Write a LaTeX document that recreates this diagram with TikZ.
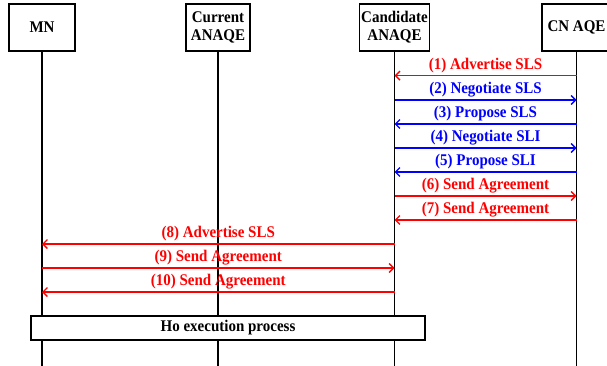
\documentclass[tikz,border=0pt]{standalone}
\usepackage{fontspec}
\setmainfont{Liberation Serif}[FakeStretch=0.92]
\usetikzlibrary{arrows.meta}
\definecolor{msgred}{RGB}{255,0,0}
\definecolor{msgblue}{RGB}{0,0,255}
\begin{document}
\begin{tikzpicture}[x=1pt,y=-1pt,
  every node/.style={font=\fontsize{16.3}{19}\selectfont\bfseries},
  entity/.style={draw,line width=1.4pt,fill=white,minimum height=47pt,inner sep=1pt,align=center},
  life/.style={line width=1.4pt},
  msg/.style={line width=1.4pt,-{Straight Barb[length=4.5pt,width=9pt]}},
  lbl/.style={midway,anchor=base,yshift=6.5pt,inner sep=0pt}
]
\useasboundingbox (0,0) rectangle (607,366);
\clip (0,0) rectangle (607,366);
% entities
\node[entity,minimum width=66pt] (mn) at (42,27.5) {MN};
\node[entity,minimum width=64pt,text width=62pt,align=center] (cur) at (218,27.5) {Current\\[-1pt]ANAQE};
\node[entity,minimum width=70pt,text width=68pt,align=center] (cand) at (394.5,27.5) {Candidate\\[-1pt]ANAQE};
\node[entity,minimum width=69pt] (cn) at (576.5,27.5) {CN AQE};
% lifeline ends
\coordinate (mnE) at (42,366);
\coordinate (curE) at (218,366);
\coordinate (candE) at (394.5,366);
\coordinate (cnE) at (576.5,366);
\draw[life] (mn.south) -- (mnE);
\draw[life] (cur.south) -- (curE);
\draw[life] (cand.south) -- (candE);
\draw[life] (cn.south) -- (cnE);
% message points
\foreach \n/\y in {1/75.7,2/100,3/124,4/148,5/172,6/196,7/220,8/244,9/268,10/292}{
  \coordinate (mn\n) at (42,\y);
  \coordinate (cand\n) at (394.5,\y);
  \coordinate (cn\n) at (576.5,\y);
}
\draw[msg,msgred] (cn1) -- node[lbl] {(1) Advertise SLS} (cand1);
\draw[msg,msgblue] (cand2) -- node[lbl] {(2) Negotiate SLS} (cn2);
\draw[msg,msgblue] (cn3) -- node[lbl] {(3) Propose SLS} (cand3);
\draw[msg,msgblue] (cand4) -- node[lbl] {(4) Negotiate SLI} (cn4);
\draw[msg,msgblue] (cn5) -- node[lbl] {(5) Propose SLI} (cand5);
\draw[msg,msgred] (cand6) -- node[lbl] {(6) Send Agreement} (cn6);
\draw[msg,msgred] (cn7) -- node[lbl] {(7) Send Agreement} (cand7);
\draw[msg,msgred] (cand8) -- node[lbl] {(8) Advertise SLS} (mn8);
\draw[msg,msgred] (mn9) -- node[lbl] {(9) Send Agreement} (cand9);
\draw[msg,msgred] (cand10) -- node[lbl] {(10) Send Agreement} (mn10);
% Ho box
\node[draw,line width=1.4pt,fill=white,minimum width=394pt,minimum height=24pt,inner sep=0pt] (ho) at (228,328) {Ho execution process};
\end{tikzpicture}
\end{document}
